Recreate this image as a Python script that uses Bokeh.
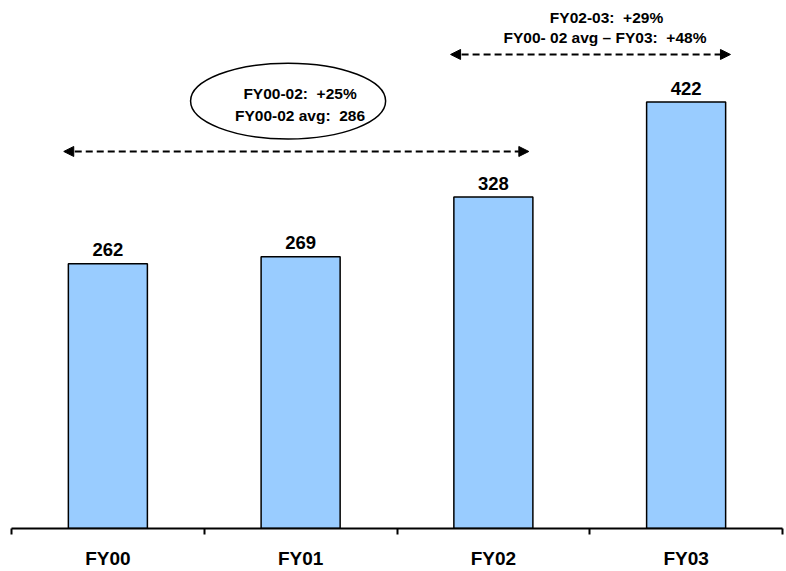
from bokeh.plotting import figure
from bokeh.models import Range1d, FixedTicker, Arrow, NormalHead, ColumnDataSource
from bokeh.core.properties import value
from bokeh.embed import file_html
from bokeh.resources import INLINE

# ---- data ----
categories = ["FY00", "FY01", "FY02", "FY03"]
values = [262, 269, 328, 422]
value_labels = ["262", "269", "328", "422"]

NB = "\u00a0"
left_note = ["FY00-02:" + NB + " +25%", "FY00-02 avg:" + NB + " 286"]
right_note = ["FY02-03:" + NB + " +29%", "FY00- 02 avg \u2013 FY03:" + NB + " +48%"]

FONT = "Liberation Sans"

centers = [i + 0.5 for i in range(len(categories))]
src = ColumnDataSource(dict(x=centers, top=values, label=value_labels))

p = figure(
    frame_width=771, frame_height=528,
    min_border_left=11, min_border_right=4, min_border_top=0, min_border_bottom=43,
    x_range=Range1d(0, len(categories)), y_range=Range1d(0, 522.5),
    output_backend="svg", toolbar_location=None, y_axis_location=None,
)
p.outline_line_color = None
p.xgrid.visible = False
p.ygrid.visible = False

# bars
p.vbar(x="x", top="top", width=0.41, bottom=0, source=src,
       fill_color="#99CCFF", line_color="black", line_width=1.5)

# value labels
p.text(x="x", y="top", text="label", source=src, text_align="center",
       text_baseline="alphabetic", y_offset=-14,
       text_font=value(FONT), text_font_style="bold", text_font_size="18.5px",
       text_color="black")

# x axis
ax = p.xaxis[0]
ax.ticker = FixedTicker(ticks=centers, minor_ticks=list(range(len(categories) + 1)))
ax.major_label_overrides = {c: lab for c, lab in zip(centers, categories)}
ax.major_tick_line_color = None
ax.major_tick_out = 0
ax.major_tick_in = 0
ax.minor_tick_out = 6
ax.minor_tick_in = 0
ax.minor_tick_line_color = "black"
ax.minor_tick_line_width = 2
ax.axis_line_color = "black"
ax.axis_line_width = 2
ax.major_label_standoff = 13
ax.major_label_text_font = FONT
ax.major_label_text_font_style = "bold"
ax.major_label_text_font_size = "19px"
ax.major_label_text_color = "black"

# annotations: dashed double arrows
for (xs, xe, y) in [(0.271, 2.684, 373.1), (2.278, 3.730, 469.1)]:
    p.add_layout(Arrow(
        x_start=xs, y_start=y, x_end=xe, y_end=y,
        line_color="black", line_width=2, line_dash="7 4",
        start=NormalHead(size=10, fill_color="black", line_color="black", line_width=1),
        end=NormalHead(size=10, fill_color="black", line_color="black", line_width=1),
    ))

# ellipse around left note
p.ellipse(x=[1.435], y=[423], width=[1.012], height=[75],
          fill_color="white", line_color="black", line_width=1.5)

p.text(x=[1.497, 1.497], y=[430.5, 408.7], text=left_note,
       text_align="center", text_baseline="middle",
       text_font=value(FONT), text_font_style="bold", text_font_size="15.5px",
       text_color="black")
p.text(x=[3.087, 3.079], y=[505.2, 485.4], text=right_note,
       text_align="center", text_baseline="middle",
       text_font=value(FONT), text_font_style="bold", text_font_size="15.5px",
       text_color="black")

open("out.html", "w").write(file_html(p, INLINE))
